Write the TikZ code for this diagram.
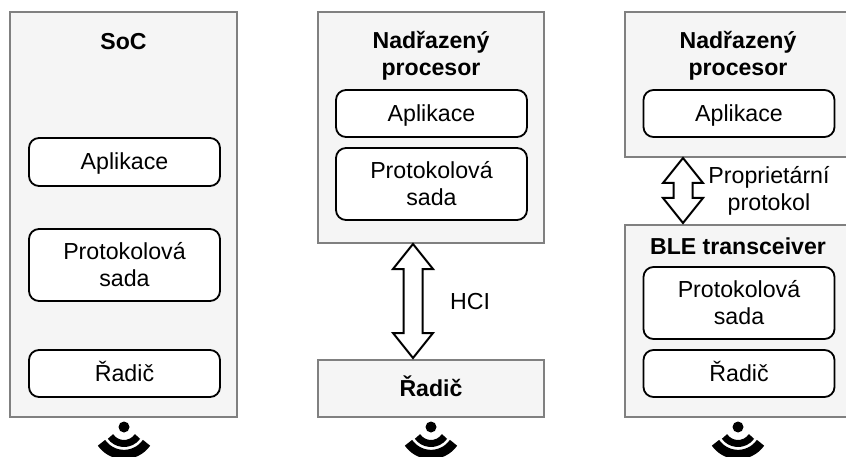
\documentclass[tikz,border=0pt]{standalone}
\usepackage{fontspec}
\setmainfont{Liberation Sans}
\usetikzlibrary{calc}
\def\wifiarc[#1](#2)(#3){\draw[line width=#1] ($(#2)+({#3*cos(35)},{#3*sin(35)})$) arc (35:145:#3);}
\def\wifi(#1){
	\fill (#1) circle (5.5);
	\wifiarc[0.21cm](#1)(16.5);
	\wifiarc[0.28cm](#1)(27.5);
}
\def\blockarrow(#1)(#2){\draw[line width=0.06cm, line join=miter, fill=white] (#1) -- ($(#1)+(20,25)$) -- ($(#1)+(9.5,25)$) -- ($(#2)+(9.5,-25)$) -- ($(#2)+(20,-25)$) -- (#2) -- ($(#2)+(-20,-25)$) -- ($(#2)+(-9.5,-25)$) -- ($(#1)+(-9.5,25)$) -- ($(#1)+(-20,25)$) -- cycle;}
\tikzset{
	outerbox/.style={draw=black!50, fill=black!4, line width=0.06cm, minimum width=6.78cm, align=center, font=\fontsize{19.7}{23}\selectfont\bfseries},
	innerbox/.style={draw=black, fill=white, rounded corners=0.3cm, line width=0.055cm, minimum width=5.73cm, align=center, font=\fontsize{19.8}{23}\selectfont},
	singleline/.style={text height=18pt, text depth=4.4pt},
	titlelabel/.style={align=center, font=\fontsize{19.7}{23}\selectfont\bfseries},
	arrowlabel/.style={align=center, font=\fontsize{19.8}{23}\selectfont},
}
\begin{document}
\begin{tikzpicture}[x=0.03cm, y=-0.03cm]
	\useasboundingbox (0, 0) rectangle (846, 457);

	%%%%% SoC %%%%%
	\node[outerbox, minimum height=12.15cm] (socbox) at (123.5, 214.5) {};
	\node[titlelabel] (soctitle) at (123.5, 42) {SoC};
	\node[innerbox, singleline, minimum height=1.44cm] (socapp) at (124.5, 162) {Aplikace};
	\node[innerbox, minimum height=2.16cm] (socstack) at (124.5, 265) {Protokolová\\sada};
	\node[innerbox, singleline, minimum height=1.41cm] (soccontrol) at (124.5, 373.5) {Řadič};
	\wifi(124, 427)

	%%%%% HCI %%%%%
	\node[outerbox, minimum height=6.93cm] (hostbox) at (431, 127.5) {};
	\node[titlelabel] (hosttitle) at (431, 55.5) {Nadřazený\\procesor};
	\node[innerbox, singleline, minimum height=1.41cm] (hostapp) at (431.5, 113.5) {Aplikace};
	\node[innerbox, minimum height=2.16cm] (hoststack) at (431.5, 184) {Protokolová\\sada};
	\node[outerbox, singleline, minimum height=1.71cm] (hcicontrol) at (431, 388.5) {Řadič};
	\coordinate (hcitop) at (413, 244);
	\coordinate (hcibottom) at (413, 358);
	\blockarrow(hcitop)(hcibottom);
	\node[arrowlabel] (hcilabel) at (470, 302) {HCI};
	\wifi(431, 427)

	%%%%% Transceiver %%%%%
	\node[outerbox, minimum height=4.35cm] (propbox) at (738, 84.5) {};
	\node[titlelabel] (proptitle) at (738, 55.5) {Nadřazený\\procesor};
	\node[innerbox, singleline, minimum height=1.41cm] (propapp) at (739, 113.5) {Aplikace};
	\node[outerbox, minimum height=5.76cm] (blebox) at (738, 321) {};
	\node[titlelabel] (bletitle) at (738, 246) {BLE transceiver};
	\node[innerbox, minimum height=2.16cm] (blestack) at (739, 303) {Protokolová\\sada};
	\node[innerbox, singleline, minimum height=1.41cm] (blecontrol) at (739, 373.5) {Řadič};
	\coordinate (proptop) at (683, 158);
	\coordinate (propbottom) at (683, 223);
	\blockarrow(proptop)(propbottom);
	\node[arrowlabel] (proplabel) at (769, 191) {Proprietární\\protokol};
	\wifi(738, 427)
\end{tikzpicture}
\end{document}
